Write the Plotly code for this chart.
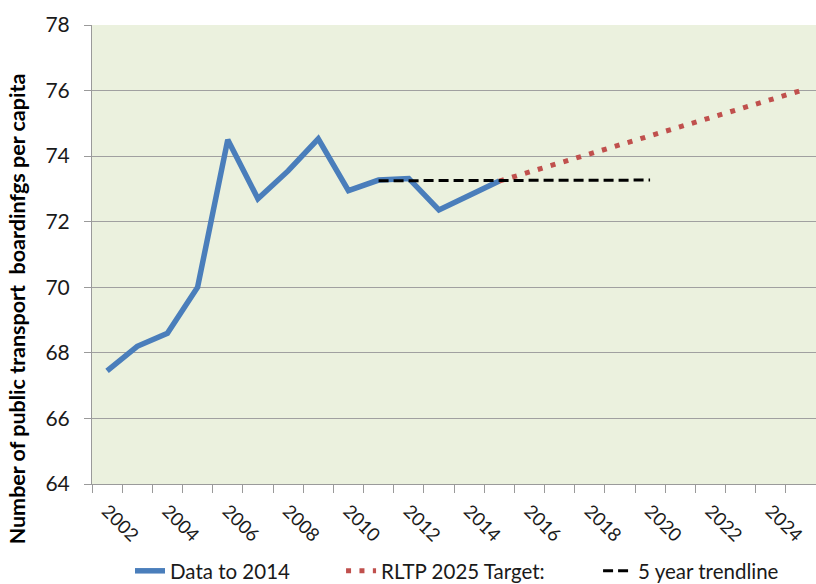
import plotly.graph_objects as go

# Data
years_data = [2002, 2003, 2004, 2005, 2006, 2007, 2008, 2009, 2010, 2011, 2012, 2013, 2014, 2015]
boardings = [67.45, 68.2, 68.6, 70.0, 74.5, 72.7, 73.55, 74.53, 72.95, 73.27, 73.32, 72.36, 72.8, 73.24]

years_target = [2015, 2025]
target = [73.24, 76.0]

years_trend = [2011, 2020]
trend = [73.25, 73.27]

tick_years = list(range(2002, 2025, 2))
y_ticks = [64, 66, 68, 70, 72, 74, 76, 78]

FONT = "Lato"
LEG_Y = -0.1895

fig = go.Figure()
fig.add_trace(go.Scatter(
    x=years_data, y=boardings, mode="lines", name="Data to 2014",
    line=dict(color="#4A7EBB", width=5.5), legend="legend",
))
fig.add_trace(go.Scatter(
    x=years_target, y=target, mode="lines", name="RLTP 2025 Target:",
    line=dict(color="#C0504D", width=5, dash="5px,8.4px"), legend="legend2",
))
fig.add_trace(go.Scatter(
    x=years_trend, y=trend, mode="lines", name="5 year trendline",
    line=dict(color="#000000", width=3, dash="10px,5px"), legend="legend3",
))

leg_common = dict(orientation="h", y=LEG_Y, xanchor="left", yanchor="middle",
                  font=dict(size=20.5, family=FONT, color="#1a1a1a"), bgcolor="rgba(0,0,0,0)")

fig.update_layout(
    width=816, height=584,
    margin=dict(l=92, r=0, t=25, b=100, autoexpand=False),
    paper_bgcolor="white",
    plot_bgcolor="#EBF1DE",
    font=dict(family=FONT, size=17, color="#1a1a1a"),
    showlegend=True,
    legend=dict(x=0.0525, **leg_common),
    legend2=dict(x=0.344, **leg_common),
    legend3=dict(x=0.699, **leg_common),
    xaxis=dict(
        range=[2001.5, 2025.5], automargin=False,
        tickmode="array", tickvals=tick_years, ticktext=[str(y) for y in tick_years],
        tickangle=45, ticks="", showgrid=False, zeroline=False,
        showline=True, linecolor="#9A9A9A", linewidth=1,
        minor=dict(tick0=2001.5, dtick=1, ticks="outside", ticklen=8, tickcolor="#9A9A9A", showgrid=False),
        tickfont=dict(size=18.5),
        ticklabelstandoff=8,
    ),
    yaxis=dict(
        range=[64, 78], tickmode="array", tickvals=y_ticks, automargin=False,
        ticks="outside", ticklen=7, tickcolor="#9A9A9A",
        showgrid=True, gridcolor="#A0A0A0", gridwidth=1, zeroline=False,
        showline=True, linecolor="#9A9A9A", linewidth=1,
        ticklabelstandoff=10,
        tickfont=dict(size=21),
    ),
)

fig.add_annotation(
    text="<b>Number of public transport  boardinfgs per capita</b>",
    xref="paper", yref="paper", x=-0.104, y=0.382, xanchor="center", yanchor="middle",
    textangle=-90, showarrow=False, font=dict(size=21.5, family=FONT, color="#000000"),
)

fig.write_html("out.html", config={"displayModeBar": False},
               post_script="document.body.style.margin='0';")
